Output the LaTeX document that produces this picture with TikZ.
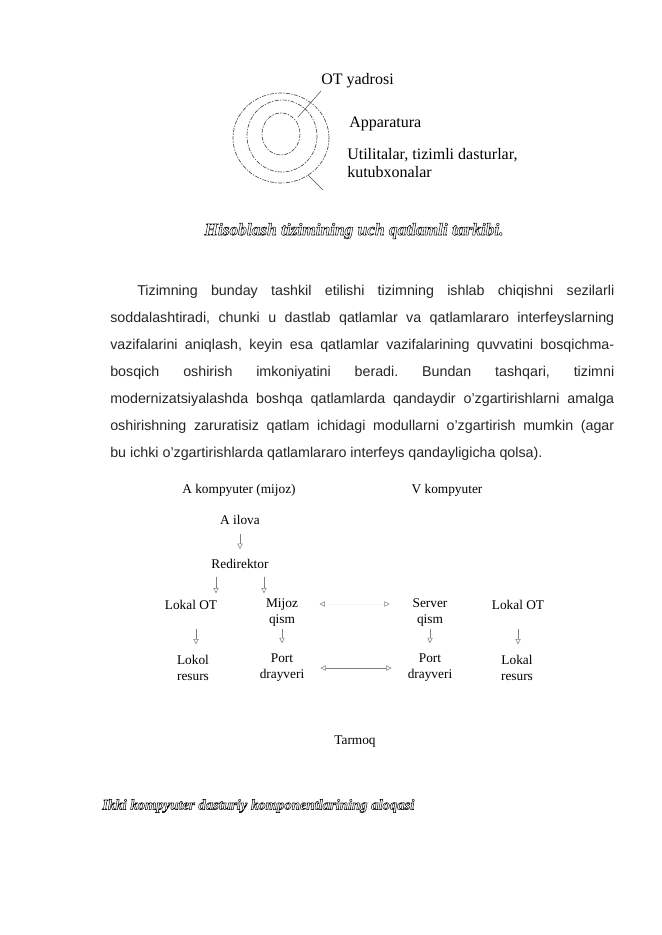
\documentclass[tikz,border=0pt]{standalone}
\usepackage{fontspec}
\setmainfont{Liberation Serif}
\newfontfamily\parafont{Liberation Sans}
\usetikzlibrary{arrows.meta}
\usetikzlibrary{calc}
\usetikzlibrary{positioning}

% hollow (outlined) letters for the captions
\newcommand{\hollow}[1]{\special{pdf:literal direct 1 Tr 0.35 w}#1\special{pdf:literal direct 0 Tr}}

\begin{document}
\begin{tikzpicture}[
    x=0.75pt, y=-0.75pt,
    >={Triangle[open, length=4pt, width=4pt]},
    ring/.style = {
      draw=gray!60!black, line width=0.5pt,
      dash pattern=on 3pt off 1pt on 1pt off 1pt,
    },
    lead/.style = {draw=gray!60!black, line width=0.4pt},
    lbl/.style = {inner sep=0pt, anchor=west, align=left,
      font=\fontsize{12}{13.5}\selectfont},
    box/.style = {inner sep=1pt, align=center,
      font=\fontsize{10}{12}\selectfont},
    arr/.style = {draw=gray, line width=0.4pt, ->,
      shorten <=5pt, shorten >=4pt},
    capt/.style = {inner sep=0pt, font=\bfseries\itshape},
  ]

  \useasboundingbox (0,0) rectangle (661,935);

  % three layers
  \draw[ring] (281,138) ellipse [x radius=48, y radius=45];
  \draw[ring] (282,136) ellipse [x radius=35, y radius=36];
  \draw[ring] (281,134) ellipse [x radius=19, y radius=21];

  \node[lbl] (yadro) at (321,81) {OT yadrosi};
  \node[lbl] (appar) at (349,124) {Apparatura};
  \node[lbl] (util) at (347,163) {Utilitalar, tizimli dasturlar,\\kutubxonalar};

  \coordinate (Y1) at (298,117);
  \coordinate (Y2) at (321,91);
  \coordinate (U1) at (308,175);
  \coordinate (U2) at (323,190);
  \draw[lead] (Y1) -- (Y2);
  \draw[lead] (U1) -- (U2);

  \node[capt, font=\bfseries\itshape\fontsize{13}{15}\selectfont] (cap1) at (354,231)
    {\hollow{Hisoblash tizimining uch qatlamli tarkibi.}};

  \node[inner sep=0pt, anchor=north west, text width=378pt, align=justify,
    font=\parafont\fontsize{10.7}{20.25}\selectfont, text=black!85] (para) at (110,284.5)
    {\tolerance=10000\frenchspacing\hspace*{20.25pt}Tizimning bunday tashkil etilishi tizimning ishlab chiqishni sezilarli\linebreak
     soddalashtiradi, chunki u dastlab qatlamlar va qatlamlararo interfeyslarning\linebreak
     vazifalarini aniqlash, keyin esa qatlamlar vazifalarining quvvatini bosqichma-\linebreak
     bosqich oshirish imkoniyatini beradi. Bundan tashqari, tizimni\linebreak
     modernizatsiyalashda boshqa qatlamlarda qandaydir o’zgartirishlarni amalga\linebreak
     oshirishning zaruratisiz qatlam ichidagi modullarni o’zgartirish mumkin (agar\linebreak
     bu ichki o’zgartirishlarda qatlamlararo interfeys qandayligicha qolsa).};

  % two computers
  \node[box] (kompA) at (239,490) {A kompyuter (mijoz)};
  \node[box] (kompV) at (447,490) {V kompyuter};
  \node[box] (ilova) at (240,520) {A ilova};
  \node[box] (redir) at (240,564) {Redirektor};
  \node[box] (lokalA) at (191,605) {Lokal OT};
  \node[box] (mijoz) at (282,612) {Mijoz\\qism};
  \node[box] (server) at (430,612) {Server\\qism};
  \node[box] (lokalV) at (518,605) {Lokal OT};
  \node[box] (resursA) at (193,668) {Lokol\\resurs};
  \node[box] (portA) at (282,668) {Port\\drayveri};
  \node[box] (portV) at (430,668) {Port\\drayveri};
  \node[box] (resursV) at (517,668) {Lokal\\resurs};
  \node[box] (tarmoq) at (355,742) {Tarmoq};

  \draw[arr, shorten <=5.8pt, shorten >=6.5pt] (ilova) -- (redir);
  \draw[arr] ([xshift=-18pt]redir.south) -- ([xshift=-18pt]redir.south |- lokalA.north);
  \draw[arr] ([xshift=18pt]redir.south) -- ([xshift=18pt]redir.south |- lokalA.north);

  \draw[arr, shorten <=1.5pt, shorten >=7pt]
    ([xshift=3.75pt]lokalA |- mijoz.south) -- ([xshift=3.75pt]lokalA |- resursA.north);
  \draw[arr, shorten <=1.5pt, shorten >=7pt] (mijoz) -- (portA);
  \draw[arr, shorten <=1.5pt, shorten >=7pt] (server) -- (portV);
  \draw[arr, shorten <=1.5pt, shorten >=7pt]
    (lokalV |- server.south) -- (lokalV |- resursV.north);

  \draw[arr, draw=gray!6, {Triangle[open, length=4pt, width=4pt, color=gray]}-{Triangle[open, length=4pt, width=4pt, color=gray]},
    shorten <=15pt, shorten >=16pt]
    ([yshift=6pt]mijoz.east) -- ([yshift=6pt]server.west);
  \draw[arr, <->, shorten <=11pt, shorten >=11pt] (portA) -- (portV);

  \node[capt, anchor=west, font=\bfseries\itshape\fontsize{11}{13}\selectfont] (cap2) at (102,806)
    {\hollow{Ikki kompyuter dasturiy komponentlarining aloqasi}};
\end{tikzpicture}
\end{document}
